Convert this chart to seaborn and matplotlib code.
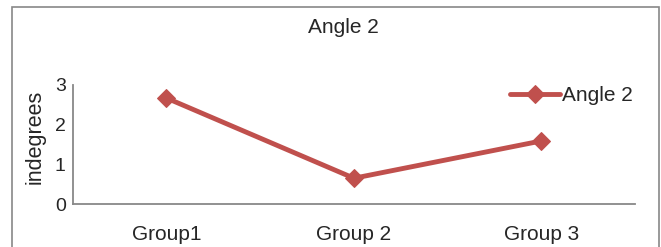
import pandas as pd
import matplotlib
matplotlib.use("Agg")
import matplotlib.pyplot as plt
import seaborn as sns
from matplotlib.patches import Rectangle

# Data
groups = ["Group1", "Group 2", "Group 3"]
angle2 = [2.67, 0.65, 1.59]
yticks = [0, 1, 2, 3]

df = pd.DataFrame({"group": groups, "Angle 2": angle2})

sns.set_style("white")
plt.rcParams['font.family'] = ['Liberation Sans', 'DejaVu Sans']

fig = plt.figure(figsize=(6.61, 2.47), dpi=100)
ax = fig.add_axes([0.110, 0.174, 0.851, 0.482])

red = "#C0504D"
sns.lineplot(data=df, x="group", y="Angle 2", ax=ax, color=red, linewidth=3.5,
             marker="D", markersize=9, markeredgecolor=red, sort=False,
             label="Angle 2")

ax.set_xlim(-0.5, 2.5)
ax.set_ylim(0, 3)
ax.set_yticks(yticks)
ax.tick_params(axis="x", labelsize=15, length=0, pad=15)
ax.tick_params(axis="y", labelsize=14, length=0, pad=5)
ax.set_xlabel("")
ax.set_ylabel("indegrees", fontsize=15.5)
ax.yaxis.set_label_coords(-0.048, 0.56)

for side in ["top", "right"]:
    ax.spines[side].set_visible(False)
for side in ["left", "bottom"]:
    ax.spines[side].set_color("#888888")
    ax.spines[side].set_linewidth(1.3)

fig.text(0.52, 0.89, "Angle 2", ha="center", va="center", fontsize=15)

leg = ax.legend(loc="upper right", bbox_to_anchor=(1.01, 1.06), frameon=False,
                fontsize=15, handlelength=2.4, handletextpad=0.1,
                borderaxespad=0)

# outer chart frame
fig.patches.append(Rectangle((12 / 661, -0.05), 647 / 661, 1.0 - 7 / 247 + 0.05,
                             transform=fig.transFigure, fill=False,
                             edgecolor="#888888", linewidth=1.2))

fig.savefig("out.png", dpi=100)
